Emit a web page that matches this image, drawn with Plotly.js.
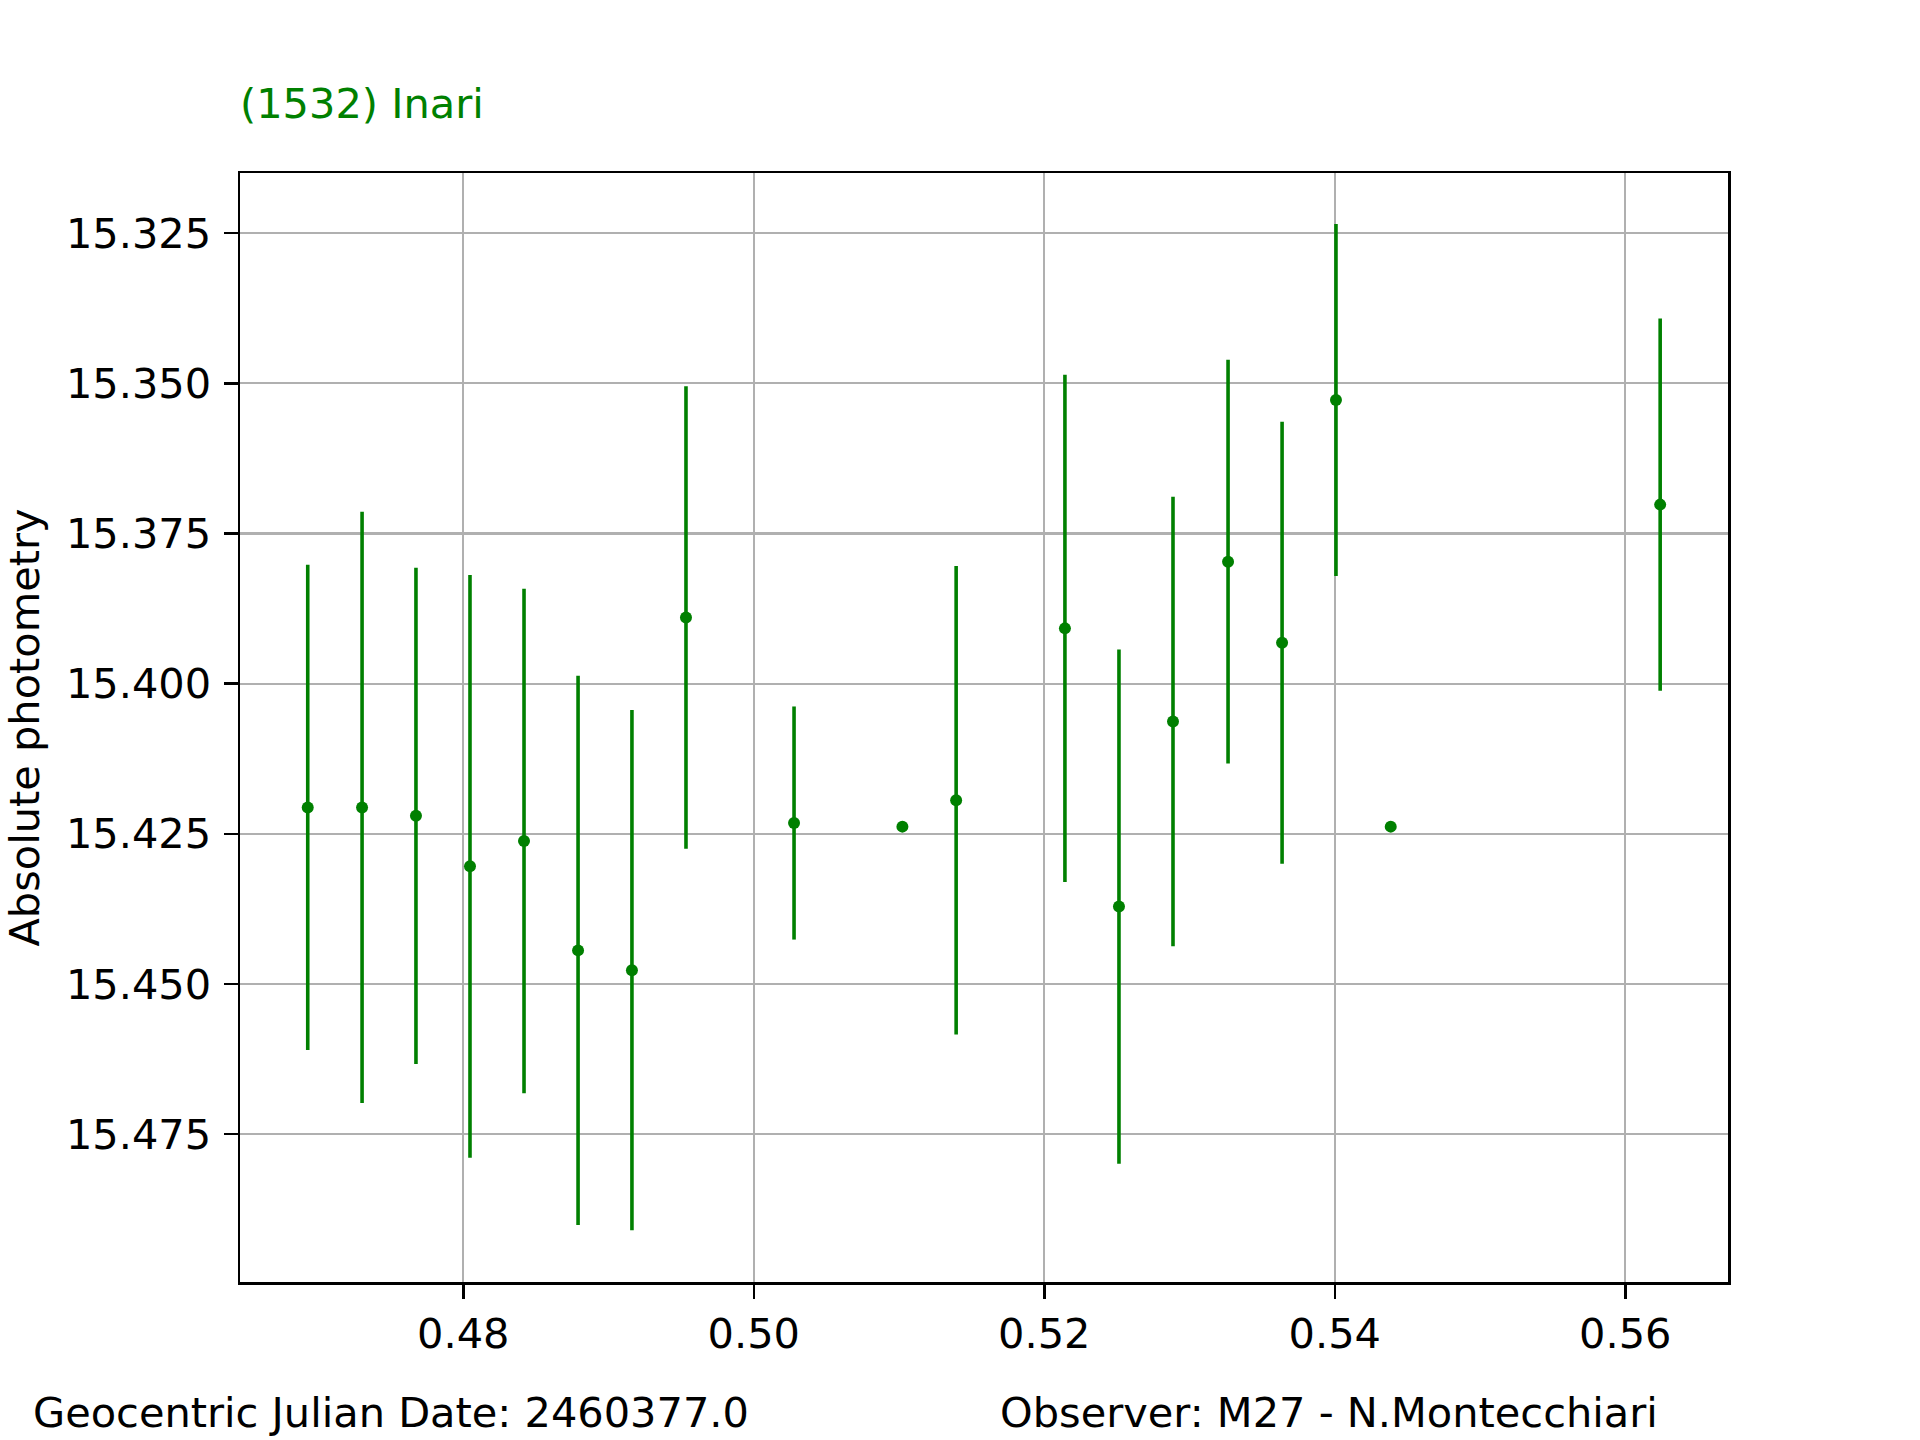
<!DOCTYPE html>
<html>
<head>
<meta charset="utf-8">
<script src="https://cdn.plot.ly/plotly-3.0.1.min.js"></script>
<style>html,body{margin:0;padding:0;background:#fff;}#chart{width:1920px;height:1440px;}</style>
</head>
<body>
<div id="chart"></div>
<script>
// Fraction of day (JD - 2460377.0)
const jdFraction = [0.46929, 0.47303, 0.47674, 0.48046, 0.48418, 0.48790, 0.49161, 0.49533,
  0.50277, 0.51023, 0.51393, 0.52142, 0.52514, 0.52886, 0.53265, 0.53637, 0.54008, 0.54385, 0.56240];
// Absolute photometry (mag)
const magnitude = [15.4206, 15.4206, 15.4220, 15.4304, 15.4262, 15.4444, 15.4477, 15.3890,
  15.4232, 15.4238, 15.4194, 15.3908, 15.4371, 15.4063, 15.3797, 15.3932, 15.3528, 15.4238, 15.3702];
// Magnitude uncertainty
const magError = [0.0404, 0.0492, 0.0413, 0.0485, 0.0420, 0.0457, 0.0433, 0.0385,
  0.0194, 0.0, 0.0390, 0.0422, 0.0428, 0.0374, 0.0336, 0.0368, 0.0293, 0.0, 0.0310];

const xTicks = [0.48, 0.50, 0.52, 0.54, 0.56];
const yTicks = [15.325, 15.350, 15.375, 15.400, 15.425, 15.450, 15.475];

const objectName = "(1532) Inari";
const dateLabel = "Geocentric Julian Date: 2460377.0";
const observerLabel = "Observer: M27 - N.Montecchiari";
const yLabel = "Absolute photometry";

const green = "#008000";
const font = "DejaVu Sans, Liberation Sans, sans-serif";
const fs = 41.5;

const trace = {
  type: "scatter",
  mode: "markers",
  x: jdFraction,
  y: magnitude,
  marker: {color: green, size: 12},
  error_y: {type: "data", array: magError, symmetric: true, visible: true,
            color: green, thickness: 3.6, width: 0},
  hoverinfo: "x+y"
};

const axisCommon = {
  showline: true, linecolor: "#000", linewidth: 2.5, mirror: true,
  ticks: "outside", ticklen: 14, tickwidth: 2.5, tickcolor: "#000",
  showgrid: true, gridcolor: "#b0b0b0", gridwidth: 2.2,
  zeroline: false,
  tickfont: {family: font, size: fs, color: "#000"},
  automargin: false
};

const layout = {
  width: 1920, height: 1440,
  paper_bgcolor: "#fff", plot_bgcolor: "#fff",
  margin: {l: 240, r: 192, t: 173, b: 158},
  showlegend: false,
  font: {family: font, size: fs, color: "#000"},
  title: {text: objectName, font: {family: font, size: fs, color: green},
          xref: "paper", x: 0, xanchor: "left", yref: "container", y: 1 - 103/1440, yanchor: "middle"},
  xaxis: Object.assign({}, axisCommon, {
    range: [0.464626, 0.56707],
    tickmode: "array", tickvals: xTicks, tickformat: ".2f"
  }),
  yaxis: Object.assign({}, axisCommon, {
    range: [15.4996, 15.3150],
    tickmode: "array", tickvals: yTicks, tickformat: ".3f",
    ticklabelstandoff: 4,
    title: {text: yLabel, font: {family: font, size: fs, color: "#000"}, standoff: 16}
  }),
  annotations: [
    {text: dateLabel, xref: "paper", yref: "paper", x: (31 - 240) / 1488, y: (1282 - 1412) / 1109,
     xanchor: "left", yanchor: "middle", showarrow: false, font: {family: font, size: fs, color: "#000"}},
    {text: observerLabel, xref: "paper", yref: "paper", x: (998 - 240) / 1488, y: (1282 - 1412) / 1109,
     xanchor: "left", yanchor: "middle", showarrow: false, font: {family: font, size: fs, color: "#000"}}
  ]
};

Plotly.newPlot("chart", [trace], layout, {displayModeBar: false, staticPlot: true});
</script>
</body>
</html>
